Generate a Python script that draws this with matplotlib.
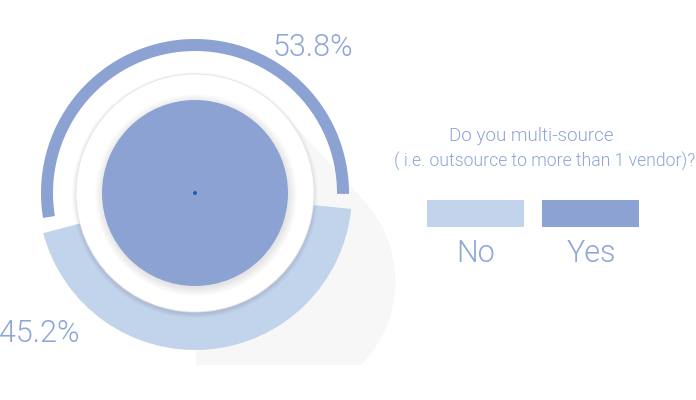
import numpy as np
import matplotlib
matplotlib.use("Agg")
import matplotlib.pyplot as plt
from matplotlib.patches import Wedge, Circle, Polygon, Rectangle

# data
labels = ["No", "Yes"]
values = [45.2, 53.8]
colors = ["#c2d3ec", "#8ba2d2"]
title_lines = ["Do you multi-source", "( i.e. outsource to more than 1 vendor)?"]

text_color = "#8ea5d8"
plt.rcParams["font.family"] = ["Roboto", "DejaVu Sans"]

W, H = 696, 400
fig = plt.figure(figsize=(W / 100, H / 100), dpi=100)
ax = fig.add_axes([0, 0, 1, 1])
ax.set_xlim(0, W)
ax.set_ylim(0, H)
ax.axis("off")

cx, cy = 195, H - 193
center = (cx, cy)

# long flat shadow behind the donut
u = np.array([81.0, -88.0])
u = u / np.linalg.norm(u)
n = np.array([-u[1], u[0]])
r_sh = 119
c0 = np.array(center, dtype=float)
c1 = c0 + u * 120
clip = Rectangle((196, H - 365), 200, 365, transform=ax.transData)
shadow = [Polygon([c0 + r_sh * n, c1 + r_sh * n, c1 - r_sh * n, c0 - r_sh * n]),
          Circle(tuple(c1), r_sh)]
for p in shadow:
    p.set_facecolor("#f7f7f7")
    p.set_edgecolor("none")
    p.set_zorder(0)
    ax.add_patch(p)
    p.set_clip_path(clip)

# outer ring: thin arc for Yes, thick wedge for No
gap = 5.5
total = sum(values)
sweeps = [(360 - 2 * gap) * v / total for v in values]
yes_start = 94.5 - sweeps[1] / 2
yes_end = yes_start + sweeps[1]
no_start = yes_end + gap
no_end = no_start + sweeps[0]

ax.add_patch(Wedge(center, 157, no_start, no_end, facecolor=colors[0],
                   edgecolor="none", zorder=2))
ax.add_patch(Wedge(center, 154, yes_start, yes_end, width=12,
                   facecolor=colors[1], edgecolor="none", zorder=2))

# soft drop shadow of the white disc
for k in range(6):
    ax.add_patch(Circle((cx, cy - 2), 119 + k * 0.8, facecolor="#000000",
                        alpha=0.014, edgecolor="none", zorder=3))
ax.add_patch(Circle(center, 119, facecolor="white", edgecolor="#e4e4e4",
                    linewidth=0.6, zorder=4))

# soft shadow of the inner disc
for k in range(9):
    ax.add_patch(Circle((cx + 1, cy - 2), 93 + k * 1.0, facecolor="#000000",
                        alpha=0.012, edgecolor="none", zorder=5))
ax.add_patch(Circle(center, 93, facecolor=colors[1], edgecolor="none", zorder=6))
ax.add_patch(Circle(center, 2, facecolor="#1f5fae", edgecolor="none", zorder=7))

# percentage labels
ax.text(313, H - 56, f"{values[1]}%", color=text_color, fontsize=22,
        fontweight=300, ha="center", va="baseline")
ax.text(39, H - 342, f"{values[0]}%", color=text_color, fontsize=22,
        fontweight=300, ha="center", va="baseline")

# title
ax.text(531, H - 141, title_lines[0], color=text_color, fontsize=13.5,
        fontweight=300, ha="center", va="baseline")
ax.text(545, H - 167, title_lines[1], color=text_color, fontsize=12.7,
        fontweight=300, ha="center", va="baseline")

# legend
box_x = [427, 542]
for lab, col, x0 in zip(labels, colors, box_x):
    ax.add_patch(Rectangle((x0, H - 227), 97, 27, facecolor=col,
                           edgecolor="none"))
    ax.text(x0 + 49, H - 262, lab, color=text_color, fontsize=22,
            fontweight=300, ha="center", va="baseline")

fig.savefig("out.png", dpi=100)
